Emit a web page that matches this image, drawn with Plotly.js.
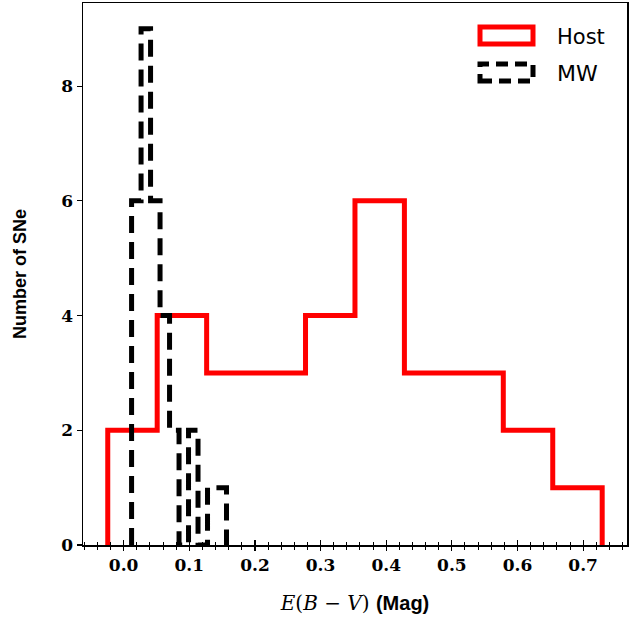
<!DOCTYPE html>
<html>
<head>
<meta charset="utf-8">
<script src="https://cdn.plot.ly/plotly-3.0.1.min.js"></script>
<style>html,body{margin:0;padding:0;background:#fff;}</style>
</head>
<body>
<div id="chart" style="width:630px;height:628px;"></div>
<script>
// Host E(B-V) histogram: 10 bins between these edges
const hostBinStart = -0.0242;
const hostBinEnd = 0.729;
const hostCounts = [2, 4, 3, 3, 4, 6, 3, 3, 2, 1];

// Milky Way E(B-V) histogram: 10 bins between these edges
const mwBinStart = 0.0121;
const mwBinEnd = 0.1567;
const mwCounts = [6, 9, 6, 4, 2, 0, 2, 0, 1, 1];

const seriesNames = ["Host", "MW"];
const xTickVals = [0.0, 0.1, 0.2, 0.3, 0.4, 0.5, 0.6, 0.7];
const xTickText = ["0.0", "0.1", "0.2", "0.3", "0.4", "0.5", "0.6", "0.7"];
const yTickVals = [0, 2, 4, 6, 8];

function stepOutline(start, end, counts) {
  const n = counts.length, w = (end - start) / n;
  const x = [start], y = [0];
  for (let i = 0; i < n; i++) { x.push(start + i * w); y.push(counts[i]); }
  x.push(end); y.push(0);
  return {x, y};
}

const host = stepOutline(hostBinStart, hostBinEnd, hostCounts);
const mw = stepOutline(mwBinStart, mwBinEnd, mwCounts);

const W = 630, H = 628, ML = 83, MR = 3, MT = 3, MB = 83;
const PW = W - ML - MR, PH = H - MT - MB;
const px = v => (v - ML) / PW;
const py = v => (H - MB - v) / PH;

const xRange = [-0.0619, 0.7668];
const yRange = [0, 9.45];

const traces = [
  {x: host.x, y: host.y, type: 'scatter', mode: 'lines', name: seriesNames[0],
   line: {color: '#ff0000', width: 5, shape: 'hv'}, showlegend: false, hoverinfo: 'skip'},
  {x: mw.x, y: mw.y, type: 'scatter', mode: 'lines', name: seriesNames[1],
   line: {color: '#000000', width: 5, shape: 'hv', dash: '17px,9px'}, showlegend: false, hoverinfo: 'skip'}
];

const tickFont = {family: 'DejaVu Serif, Liberation Serif, serif', size: 17, color: '#000', weight: 'bold'};

const layout = {
  width: W, height: H,
  margin: {l: ML, r: MR, t: MT, b: MB, pad: 0},
  paper_bgcolor: '#fff', plot_bgcolor: '#fff',
  showlegend: false,
  xaxis: {
    range: xRange, autorange: false, showgrid: false, zeroline: false,
    showline: true, linecolor: '#000', linewidth: 1.5, mirror: true,
    tickmode: 'array', tickvals: xTickVals, ticktext: xTickText,
    ticks: 'outside', ticklen: 4, tickwidth: 1.2, tickcolor: '#000',
    minor: {dtick: 0.02, tick0: 0, ticks: 'outside', ticklen: 3, tickwidth: 1, tickcolor: '#000', showgrid: false},
    tickfont: tickFont,
    title: {text: '<i>E</i>(<i>B</i> − <i>V</i>) <span style="font-family:Liberation Sans, DejaVu Sans, sans-serif;font-weight:bold">(Mag)</span>',
            font: {family: 'DejaVu Serif, Liberation Serif, serif', size: 20, color: '#000'}, standoff: 22}
  },
  xaxis2: {
    overlaying: 'x', anchor: 'y', side: 'bottom',
    range: xRange, autorange: false, showgrid: false, zeroline: false, showline: false,
    tickmode: 'array', tickvals: xTickVals, showticklabels: false,
    ticks: 'inside', ticklen: 5, tickwidth: 1.2, tickcolor: '#000',
    minor: {dtick: 0.02, tick0: 0, ticks: 'inside', ticklen: 3, tickwidth: 1, tickcolor: '#000', showgrid: false}
  },
  yaxis: {
    range: yRange, autorange: false, showgrid: false, zeroline: false,
    showline: true, linecolor: '#000', linewidth: 1.5, mirror: true,
    tickmode: 'array', tickvals: yTickVals,
    ticks: 'outside', ticklen: 5, tickwidth: 1.2, tickcolor: '#000',
    tickfont: tickFont,
    title: {text: 'Number of SNe', font: {family: 'Liberation Sans, DejaVu Sans, sans-serif', size: 18, color: '#000', weight: 'bold'}, standoff: 30}
  },
  shapes: [
    {type: 'rect', xref: 'paper', yref: 'paper', x0: px(480), x1: px(533), y0: py(44), y1: py(27),
     line: {color: '#ff0000', width: 5}, fillcolor: 'rgba(0,0,0,0)'},
    {type: 'rect', xref: 'paper', yref: 'paper', x0: px(480), x1: px(533), y0: py(81), y1: py(64),
     line: {color: '#000000', width: 5, dash: '12px,7px'}, fillcolor: 'rgba(0,0,0,0)'}
  ],
  annotations: [
    {xref: 'paper', yref: 'paper', x: px(555), y: py(37), xanchor: 'left', yanchor: 'middle', showarrow: false,
     text: seriesNames[0], font: {family: 'DejaVu Sans, sans-serif', size: 21, color: '#000'}},
    {xref: 'paper', yref: 'paper', x: px(555), y: py(73), xanchor: 'left', yanchor: 'middle', showarrow: false,
     text: seriesNames[1], font: {family: 'DejaVu Sans, sans-serif', size: 22, color: '#000'}}
  ]
};

// ensure the overlay axis exists with an invisible trace
traces.push({x: [xRange[0]], y: [0], xaxis: 'x2', yaxis: 'y', type: 'scatter', mode: 'markers',
  marker: {opacity: 0}, showlegend: false, hoverinfo: 'skip'});

Plotly.newPlot('chart', traces, layout, {displayModeBar: false, staticPlot: true});
</script>
</body>
</html>
